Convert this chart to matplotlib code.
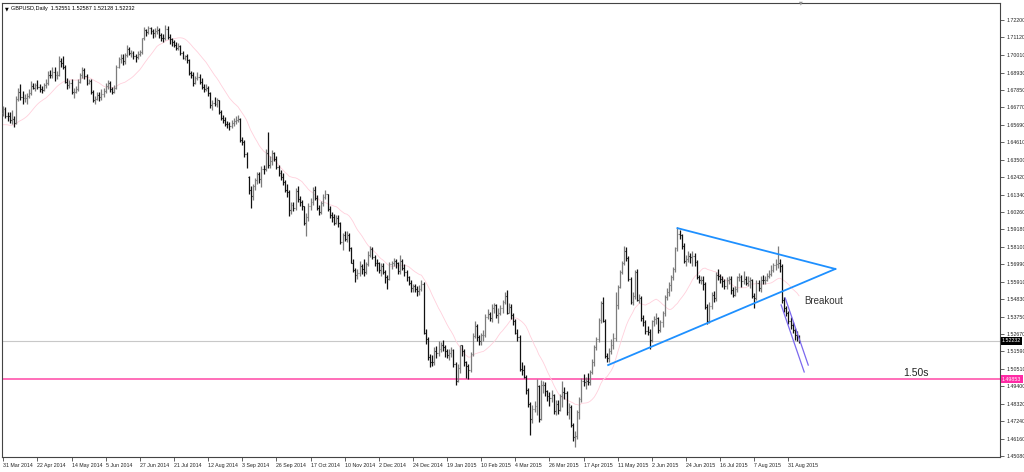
import numpy as np
import pandas as pd
import matplotlib
matplotlib.use("Agg")
import matplotlib.pyplot as plt
import matplotlib.transforms as mtransforms

plt.rcParams['font.family'] = ['Liberation Sans', 'DejaVu Sans']

# GBPUSD daily bars, 31 Mar 2014 .. 7 Sep 2015
opens = [
    1.6640, 1.6665, 1.6625, 1.6620, 1.6600, 1.6605, 1.6580, 1.6730, 1.6770, 1.6740,
    1.6735, 1.6735, 1.6750, 1.6765, 1.6810, 1.6800, 1.6815, 1.6805, 1.6790, 1.6785,
    1.6815, 1.6830, 1.6880, 1.6875, 1.6895, 1.6880, 1.6880, 1.6965, 1.6955, 1.6930,
    1.6835, 1.6815, 1.6830, 1.6770, 1.6775, 1.6790, 1.6835, 1.6880, 1.6910, 1.6870,
    1.6830, 1.6840, 1.6775, 1.6720, 1.6730, 1.6755, 1.6740, 1.6760, 1.6780, 1.6810,
    1.6825, 1.6790, 1.6775, 1.6800, 1.6930, 1.6975, 1.6985, 1.6965, 1.7000, 1.7040,
    1.7015, 1.7015, 1.6995, 1.6990, 1.7010, 1.7020, 1.7105, 1.7155, 1.7145, 1.7170,
    1.7150, 1.7140, 1.7150, 1.7160, 1.7125, 1.7110, 1.7105, 1.7165, 1.7115, 1.7100,
    1.7085, 1.7065, 1.7045, 1.7060, 1.7015, 1.6985, 1.6995, 1.6970, 1.6890, 1.6880,
    1.6830, 1.6860, 1.6865, 1.6835, 1.6805, 1.6790, 1.6795, 1.6765, 1.6690, 1.6705,
    1.6695, 1.6720, 1.6650, 1.6610, 1.6595, 1.6575, 1.6570, 1.6560, 1.6580, 1.6590,
    1.6600, 1.6605, 1.6475, 1.6460, 1.6385, 1.6245, 1.6160, 1.6125, 1.6185, 1.6225,
    1.6260, 1.6230, 1.6295, 1.6290, 1.6395, 1.6315, 1.6340, 1.6390, 1.6355, 1.6305,
    1.6270, 1.6245, 1.6210, 1.6165, 1.6150, 1.6040, 1.6070, 1.6050, 1.6155, 1.6105,
    1.6085, 1.6060, 1.5955, 1.5995, 1.6060, 1.6085, 1.6160, 1.6115, 1.6050, 1.6025,
    1.6080, 1.6120, 1.6135, 1.6045, 1.6005, 1.5995, 1.5960, 1.5990, 1.5955, 1.5840,
    1.5880, 1.5860, 1.5885, 1.5800, 1.5710, 1.5665, 1.5635, 1.5645, 1.5690, 1.5670,
    1.5650, 1.5700, 1.5760, 1.5795, 1.5745, 1.5710, 1.5705, 1.5665, 1.5690, 1.5655,
    1.5620, 1.5610, 1.5700, 1.5705, 1.5720, 1.5705, 1.5660, 1.5720, 1.5680, 1.5655,
    1.5620, 1.5585, 1.5550, 1.5565, 1.5545, 1.5535, 1.5545, 1.5580,
    1.5275, 1.5235, 1.5125, 1.5095, 1.5090, 1.5160, 1.5145, 1.5175, 1.5200, 1.5185,
    1.5160, 1.5135, 1.5150, 1.5165, 1.5080, 1.4975, 1.5055, 1.5195, 1.5160, 1.5090,
    1.5065, 1.5040, 1.5140, 1.5255, 1.5315, 1.5245, 1.5225, 1.5260, 1.5260, 1.5375,
    1.5390, 1.5365, 1.5425, 1.5445, 1.5385, 1.5395, 1.5430, 1.5465, 1.5505, 1.5400,
    1.5435, 1.5385, 1.5345, 1.5275, 1.5245, 1.5050, 1.5045, 1.5000, 1.4920, 1.4830,
    1.4740, 1.4800, 1.4820, 1.4945, 1.4740, 1.4950, 1.4950, 1.4910, 1.4880, 1.4865,
    1.4885, 1.4785, 1.4830, 1.4795, 1.4880, 1.4905, 1.4900, 1.4780, 1.4810, 1.4700,
    1.4625, 1.4630, 1.4780, 1.4860, 1.4975, 1.4970, 1.4975, 1.4965, 1.5030, 1.5095,
    1.5185, 1.5235, 1.5355, 1.5460, 1.5350, 1.5130, 1.5115, 1.5160, 1.5195, 1.5240,
    1.5445, 1.5560, 1.5655, 1.5705, 1.5785, 1.5740, 1.5610, 1.5465, 1.5500, 1.5655,
    1.5480, 1.5490, 1.5365, 1.5340, 1.5285, 1.5280, 1.5230, 1.5345, 1.5360, 1.5365,
    1.5290, 1.5340, 1.5395, 1.5495, 1.5530, 1.5570, 1.5620, 1.5670, 1.5800, 1.5890,
    1.5880, 1.5815, 1.5720, 1.5735, 1.5750, 1.5745, 1.5750, 1.5715, 1.5620, 1.5600,
    1.5605, 1.5580, 1.5435, 1.5345, 1.5440, 1.5510, 1.5490, 1.5635, 1.5625, 1.5610,
    1.5595, 1.5565, 1.5600, 1.5610, 1.5540, 1.5510, 1.5545, 1.5620, 1.5620, 1.5595,
    1.5610, 1.5585, 1.5595, 1.5600, 1.5505, 1.5490, 1.5585, 1.5550, 1.5605, 1.5600,
    1.5605, 1.5625, 1.5640, 1.5665, 1.5695, 1.5700, 1.5710, 1.5690, 1.5480, 1.5425,
    1.5395, 1.5345, 1.5320, 1.5290, 1.5260, 1.52551,
]
highs = [
    1.6685, 1.6680, 1.6650, 1.6645, 1.6660, 1.6625, 1.6745, 1.6800, 1.6820, 1.6780,
    1.6760, 1.6765, 1.6790, 1.6840, 1.6825, 1.6830, 1.6845, 1.6820, 1.6810, 1.6830,
    1.6850, 1.6900, 1.6910, 1.6925, 1.6925, 1.6900, 1.6995, 1.6985, 1.6995, 1.6940,
    1.6860, 1.6845, 1.6850, 1.6800, 1.6810, 1.6850, 1.6890, 1.6925, 1.6920, 1.6885,
    1.6850, 1.6855, 1.6785, 1.6750, 1.6775, 1.6770, 1.6790, 1.6800, 1.6830, 1.6845,
    1.6840, 1.6805, 1.6815, 1.6940, 1.6990, 1.7010, 1.7010, 1.7015, 1.7065, 1.7050,
    1.7035, 1.7030, 1.7010, 1.7025, 1.7035, 1.7110, 1.7175, 1.7165, 1.7180, 1.7175,
    1.7165, 1.7170, 1.7180, 1.7170, 1.7140, 1.7130, 1.7190, 1.7180, 1.7130, 1.7110,
    1.7095, 1.7085, 1.7075, 1.7065, 1.7025, 1.7005, 1.7010, 1.6980, 1.6905, 1.6895,
    1.6870, 1.6895, 1.6885, 1.6860, 1.6820, 1.6820, 1.6810, 1.6775, 1.6725, 1.6740,
    1.6735, 1.6725, 1.6660, 1.6630, 1.6615, 1.6590, 1.6585, 1.6600, 1.6610, 1.6620,
    1.6630, 1.6610, 1.6495, 1.6475, 1.6400, 1.6250, 1.6185, 1.6200, 1.6240, 1.6275,
    1.6275, 1.6310, 1.6320, 1.6420, 1.6525, 1.6375, 1.6410, 1.6400, 1.6375, 1.6320,
    1.6285, 1.6265, 1.6225, 1.6200, 1.6165, 1.6090, 1.6090, 1.6175, 1.6185, 1.6125,
    1.6100, 1.6065, 1.6020, 1.6080, 1.6110, 1.6180, 1.6185, 1.6130, 1.6070, 1.6095,
    1.6135, 1.6160, 1.6140, 1.6060, 1.6025, 1.6015, 1.6005, 1.6005, 1.5965, 1.5895,
    1.5905, 1.5910, 1.5895, 1.5810, 1.5730, 1.5680, 1.5670, 1.5720, 1.5700, 1.5735,
    1.5715, 1.5780, 1.5815, 1.5805, 1.5760, 1.5730, 1.5715, 1.5710, 1.5705, 1.5665,
    1.5635, 1.5715, 1.5720, 1.5740, 1.5735, 1.5715, 1.5755, 1.5735, 1.5700, 1.5665,
    1.5630, 1.5600, 1.5580, 1.5575, 1.5565, 1.5570, 1.5600, 1.5590,
    1.5300, 1.5245, 1.5140, 1.5135, 1.5185, 1.5190, 1.5220, 1.5215, 1.5230, 1.5200,
    1.5170, 1.5175, 1.5185, 1.5175, 1.5090, 1.5080, 1.5200, 1.5200, 1.5170, 1.5100,
    1.5080, 1.5155, 1.5270, 1.5345, 1.5330, 1.5260, 1.5275, 1.5290, 1.5390, 1.5420,
    1.5405, 1.5450, 1.5460, 1.5455, 1.5425, 1.5445, 1.5480, 1.5525, 1.5540, 1.5460,
    1.5450, 1.5395, 1.5360, 1.5300, 1.5260, 1.5095, 1.5075, 1.5010, 1.4930, 1.4845,
    1.4825, 1.4850, 1.4985, 1.4950, 1.4980, 1.4975, 1.4970, 1.4920, 1.4905, 1.4915,
    1.4890, 1.4855, 1.4855, 1.4895, 1.4975, 1.4935, 1.4910, 1.4840, 1.4825, 1.4715,
    1.4660, 1.4795, 1.4875, 1.4990, 1.5020, 1.5000, 1.5025, 1.5045, 1.5110, 1.5200,
    1.5250, 1.5365, 1.5470, 1.5495, 1.5360, 1.5150, 1.5180, 1.5235, 1.5270, 1.5525,
    1.5570, 1.5665, 1.5720, 1.5815, 1.5805, 1.5750, 1.5620, 1.5525, 1.5665, 1.5670,
    1.5515, 1.5500, 1.5385, 1.5355, 1.5315, 1.5295, 1.5355, 1.5380, 1.5395, 1.5375,
    1.5355, 1.5410, 1.5510, 1.5550, 1.5590, 1.5635, 1.5685, 1.5810, 1.5930, 1.5915,
    1.5890, 1.5830, 1.5760, 1.5785, 1.5770, 1.5785, 1.5770, 1.5725, 1.5635, 1.5625,
    1.5625, 1.5590, 1.5455, 1.5465, 1.5530, 1.5535, 1.5650, 1.5670, 1.5640, 1.5625,
    1.5610, 1.5620, 1.5630, 1.5625, 1.5560, 1.5565, 1.5630, 1.5645, 1.5635, 1.5660,
    1.5630, 1.5625, 1.5620, 1.5610, 1.5520, 1.5600, 1.5600, 1.5625, 1.5635, 1.5625,
    1.5645, 1.5665, 1.5695, 1.5710, 1.5730, 1.5815, 1.5735, 1.5700, 1.5495, 1.5440,
    1.5410, 1.5375, 1.5340, 1.5305, 1.5285, 1.52587,
]
lows = [
    1.6620, 1.6610, 1.6590, 1.6580, 1.6575, 1.6555, 1.6570, 1.6715, 1.6725, 1.6700,
    1.6710, 1.6700, 1.6735, 1.6755, 1.6790, 1.6780, 1.6790, 1.6770, 1.6765, 1.6780,
    1.6800, 1.6815, 1.6860, 1.6860, 1.6840, 1.6855, 1.6870, 1.6930, 1.6915, 1.6825,
    1.6790, 1.6800, 1.6760, 1.6735, 1.6765, 1.6780, 1.6825, 1.6860, 1.6855, 1.6815,
    1.6820, 1.6760, 1.6710, 1.6695, 1.6720, 1.6715, 1.6725, 1.6740, 1.6765, 1.6790,
    1.6775, 1.6760, 1.6765, 1.6790, 1.6920, 1.6950, 1.6940, 1.6945, 1.6990, 1.7000,
    1.6990, 1.6980, 1.6960, 1.6975, 1.6995, 1.7010, 1.7095, 1.7120, 1.7130, 1.7130,
    1.7110, 1.7115, 1.7130, 1.7110, 1.7090, 1.7085, 1.7095, 1.7100, 1.7070, 1.7060,
    1.7050, 1.7035, 1.7035, 1.7005, 1.6975, 1.6970, 1.6955, 1.6880, 1.6860, 1.6810,
    1.6820, 1.6845, 1.6820, 1.6790, 1.6770, 1.6780, 1.6750, 1.6670, 1.6660, 1.6685,
    1.6680, 1.6635, 1.6600, 1.6580, 1.6560, 1.6550, 1.6535, 1.6545, 1.6560, 1.6575,
    1.6585, 1.6460, 1.6440, 1.6370, 1.6300, 1.6140, 1.6050, 1.6100, 1.6160, 1.6200,
    1.6205, 1.6180, 1.6260, 1.6280, 1.6300, 1.6300, 1.6320, 1.6340, 1.6290, 1.6250,
    1.6225, 1.6195, 1.6150, 1.6120, 1.6000, 1.6015, 1.6030, 1.6040, 1.6090, 1.6065,
    1.6040, 1.5945, 1.5875, 1.5970, 1.6040, 1.6070, 1.6100, 1.6035, 1.6005, 1.6015,
    1.6060, 1.6105, 1.6030, 1.5985, 1.5965, 1.5945, 1.5950, 1.5935, 1.5825, 1.5790,
    1.5845, 1.5840, 1.5780, 1.5710, 1.5650, 1.5590, 1.5610, 1.5630, 1.5640, 1.5625,
    1.5640, 1.5690, 1.5745, 1.5730, 1.5690, 1.5660, 1.5645, 1.5630, 1.5640, 1.5585,
    1.5545, 1.5600, 1.5670, 1.5690, 1.5680, 1.5640, 1.5640, 1.5665, 1.5630, 1.5595,
    1.5570, 1.5530, 1.5530, 1.5525, 1.5505, 1.5510, 1.5535, 1.5265,
    1.5205, 1.5105, 1.5060, 1.5065, 1.5075, 1.5120, 1.5130, 1.5155, 1.5160, 1.5125,
    1.5120, 1.5105, 1.5125, 1.5060, 1.4950, 1.4965, 1.5025, 1.5130, 1.5070, 1.4990,
    1.4985, 1.5030, 1.5130, 1.5240, 1.5225, 1.5200, 1.5200, 1.5225, 1.5245, 1.5360,
    1.5350, 1.5340, 1.5400, 1.5365, 1.5335, 1.5385, 1.5400, 1.5450, 1.5390, 1.5395,
    1.5360, 1.5320, 1.5265, 1.5225, 1.5035, 1.5010, 1.4990, 1.4895, 1.4810, 1.4635,
    1.4715, 1.4780, 1.4765, 1.4720, 1.4730, 1.4900, 1.4880, 1.4850, 1.4820, 1.4845,
    1.4770, 1.4760, 1.4770, 1.4790, 1.4815, 1.4860, 1.4760, 1.4740, 1.4685, 1.4600,
    1.4565, 1.4610, 1.4740, 1.4845, 1.4945, 1.4925, 1.4950, 1.4950, 1.5015, 1.5070,
    1.5165, 1.5215, 1.5335, 1.5340, 1.5120, 1.5095, 1.5090, 1.5140, 1.5170, 1.5225,
    1.5420, 1.5550, 1.5640, 1.5695, 1.5720, 1.5595, 1.5450, 1.5445, 1.5485, 1.5470,
    1.5460, 1.5345, 1.5315, 1.5265, 1.5260, 1.5170, 1.5215, 1.5315, 1.5330, 1.5270,
    1.5280, 1.5310, 1.5380, 1.5475, 1.5505, 1.5535, 1.5605, 1.5655, 1.5785, 1.5855,
    1.5795, 1.5705, 1.5690, 1.5715, 1.5710, 1.5690, 1.5690, 1.5610, 1.5585, 1.5575,
    1.5540, 1.5420, 1.5330, 1.5335, 1.5420, 1.5465, 1.5470, 1.5600, 1.5585, 1.5560,
    1.5545, 1.5545, 1.5575, 1.5515, 1.5495, 1.5505, 1.5530, 1.5595, 1.5560, 1.5575,
    1.5570, 1.5565, 1.5555, 1.5490, 1.5425, 1.5480, 1.5535, 1.5530, 1.5575, 1.5580,
    1.5595, 1.5615, 1.5625, 1.5650, 1.5665, 1.5680, 1.5650, 1.5460, 1.5405, 1.5380,
    1.5330, 1.5300, 1.5270, 1.5230, 1.5220, 1.52128,
]
closes = [
    1.6665, 1.6625, 1.6620, 1.6600, 1.6605, 1.6580, 1.6730, 1.6770, 1.6740, 1.6735,
    1.6735, 1.6750, 1.6765, 1.6810, 1.6800, 1.6815, 1.6805, 1.6790, 1.6785, 1.6815,
    1.6830, 1.6880, 1.6875, 1.6895, 1.6880, 1.6880, 1.6965, 1.6955, 1.6930, 1.6835,
    1.6815, 1.6830, 1.6770, 1.6775, 1.6790, 1.6835, 1.6880, 1.6910, 1.6870, 1.6830,
    1.6840, 1.6775, 1.6720, 1.6730, 1.6755, 1.6740, 1.6760, 1.6780, 1.6810, 1.6825,
    1.6790, 1.6775, 1.6800, 1.6930, 1.6975, 1.6985, 1.6965, 1.7000, 1.7040, 1.7015,
    1.7015, 1.6995, 1.6990, 1.7010, 1.7020, 1.7105, 1.7155, 1.7145, 1.7170, 1.7150,
    1.7140, 1.7150, 1.7160, 1.7125, 1.7110, 1.7105, 1.7165, 1.7115, 1.7100, 1.7085,
    1.7065, 1.7045, 1.7060, 1.7015, 1.6985, 1.6995, 1.6970, 1.6890, 1.6880, 1.6830,
    1.6860, 1.6865, 1.6835, 1.6805, 1.6790, 1.6795, 1.6765, 1.6690, 1.6705, 1.6695,
    1.6720, 1.6650, 1.6610, 1.6595, 1.6575, 1.6570, 1.6560, 1.6580, 1.6590, 1.6600,
    1.6605, 1.6475, 1.6460, 1.6385, 1.6320, 1.6160, 1.6125, 1.6185, 1.6225, 1.6260,
    1.6230, 1.6295, 1.6290, 1.6395, 1.6315, 1.6340, 1.6390, 1.6355, 1.6305, 1.6270,
    1.6245, 1.6210, 1.6165, 1.6150, 1.6040, 1.6070, 1.6050, 1.6155, 1.6105, 1.6085,
    1.6060, 1.5955, 1.5995, 1.6060, 1.6085, 1.6160, 1.6115, 1.6050, 1.6025, 1.6080,
    1.6120, 1.6135, 1.6045, 1.6005, 1.5995, 1.5960, 1.5990, 1.5955, 1.5840, 1.5880,
    1.5860, 1.5885, 1.5800, 1.5710, 1.5665, 1.5635, 1.5645, 1.5690, 1.5670, 1.5650,
    1.5700, 1.5760, 1.5795, 1.5745, 1.5710, 1.5705, 1.5665, 1.5690, 1.5655, 1.5620,
    1.5610, 1.5700, 1.5705, 1.5720, 1.5705, 1.5660, 1.5720, 1.5680, 1.5655, 1.5620,
    1.5585, 1.5550, 1.5565, 1.5545, 1.5535, 1.5545, 1.5580, 1.5275,
    1.5235, 1.5125, 1.5095, 1.5090, 1.5160, 1.5145, 1.5175, 1.5200, 1.5185, 1.5160,
    1.5135, 1.5150, 1.5165, 1.5080, 1.4975, 1.5055, 1.5195, 1.5160, 1.5090, 1.5065,
    1.5040, 1.5140, 1.5255, 1.5315, 1.5245, 1.5225, 1.5260, 1.5260, 1.5375, 1.5390,
    1.5365, 1.5425, 1.5445, 1.5385, 1.5395, 1.5430, 1.5465, 1.5505, 1.5400, 1.5435,
    1.5385, 1.5345, 1.5275, 1.5245, 1.5050, 1.5045, 1.5000, 1.4920, 1.4830, 1.4740,
    1.4800, 1.4820, 1.4945, 1.4740, 1.4950, 1.4950, 1.4910, 1.4880, 1.4865, 1.4885,
    1.4785, 1.4830, 1.4795, 1.4880, 1.4905, 1.4900, 1.4780, 1.4810, 1.4700, 1.4625,
    1.4630, 1.4780, 1.4860, 1.4975, 1.4970, 1.4975, 1.4965, 1.5030, 1.5095, 1.5185,
    1.5235, 1.5355, 1.5460, 1.5350, 1.5130, 1.5115, 1.5160, 1.5195, 1.5240, 1.5445,
    1.5560, 1.5655, 1.5705, 1.5785, 1.5740, 1.5610, 1.5465, 1.5500, 1.5655, 1.5480,
    1.5490, 1.5365, 1.5340, 1.5285, 1.5280, 1.5230, 1.5345, 1.5360, 1.5365, 1.5290,
    1.5340, 1.5395, 1.5495, 1.5530, 1.5570, 1.5620, 1.5670, 1.5800, 1.5890, 1.5880,
    1.5815, 1.5720, 1.5735, 1.5750, 1.5745, 1.5750, 1.5715, 1.5620, 1.5600, 1.5605,
    1.5580, 1.5435, 1.5345, 1.5440, 1.5510, 1.5490, 1.5635, 1.5625, 1.5610, 1.5595,
    1.5565, 1.5600, 1.5610, 1.5540, 1.5510, 1.5545, 1.5620, 1.5620, 1.5595, 1.5610,
    1.5585, 1.5595, 1.5600, 1.5505, 1.5490, 1.5585, 1.5550, 1.5605, 1.5600, 1.5605,
    1.5625, 1.5640, 1.5665, 1.5695, 1.5700, 1.5710, 1.5690, 1.5480, 1.5425, 1.5395,
    1.5345, 1.5320, 1.5290, 1.5260, 1.5255, 1.52232,
]
# closes of the 19 sessions before the first bar, only feed the moving average
prior_closes = [1.6620, 1.6640, 1.6650, 1.6600, 1.6560, 1.6560, 1.6545, 1.6580, 1.6600, 1.6555,
                1.6545, 1.6500, 1.6490, 1.6475, 1.6490, 1.6520, 1.6550, 1.6590, 1.6630]

date_labels = ['31 Mar 2014', '22 Apr 2014', '14 May 2014', '5 Jun 2014', '27 Jun 2014',
               '21 Jul 2014', '12 Aug 2014', '3 Sep 2014', '26 Sep 2014', '17 Oct 2014',
               '10 Nov 2014', '2 Dec 2014', '24 Dec 2014', '19 Jan 2015', '10 Feb 2015',
               '4 Mar 2015', '26 Mar 2015', '17 Apr 2015', '11 May 2015', '2 Jun 2015',
               '24 Jun 2015', '16 Jul 2015', '7 Aug 2015', '31 Aug 2015']
bars_per_label = 16
price_ticks = [1.72200, 1.71120, 1.70010, 1.68930, 1.67850, 1.66770, 1.65690, 1.64610, 1.63500,
               1.62420, 1.61340, 1.60260, 1.59180, 1.58100, 1.56990, 1.55910, 1.54830, 1.53750,
               1.52670, 1.51590, 1.50510, 1.49400, 1.48320, 1.47240, 1.46160, 1.45080]

# drawn objects (bar index, price)
tri_upper = ([316, 390], [1.5925, 1.5671])
tri_lower = ([283.5, 390], [1.5073, 1.5671])
chan_a = ([364.6, 375.4], [1.5447, 1.5030])
chan_b = ([366.5, 377.3], [1.5490, 1.5073])
level_150 = 1.49853
breakout_pos = (375.4, 1.5471)
label_150_pos = (421.8, 1.5023)

o = np.array(opens); h = np.array(highs); l = np.array(lows); c = np.array(closes)
x = np.arange(len(c))
up = c >= o
ma = pd.Series(prior_closes + closes).rolling(20).mean().values[len(prior_closes):]

fig = plt.figure(figsize=(10.24, 4.72), dpi=100)
ax = fig.add_axes([0.002, 0.0318, 0.9746, 0.9619])

ax.axhline(c[-1], color='#c8c8c8', lw=0.8, zorder=1)
ax.axhline(level_150, color='#ff6eb9', lw=1.4, zorder=1)

ax.plot(x, ma, color='#ffd0dc', lw=0.6, zorder=2)

for mask, col in [(up, '#7c7c7c'), (~up, '#111111')]:
    ax.vlines(x[mask], l[mask], h[mask], color=col, lw=0.9, zorder=3)
    ax.hlines(o[mask], x[mask] - 0.45, x[mask], color=col, lw=0.8, zorder=3)
    ax.hlines(c[mask], x[mask], x[mask] + 0.45, color=col, lw=0.8, zorder=3)

ax.plot(*tri_upper, color='#1e90ff', lw=1.3, zorder=4)
ax.plot(*tri_lower, color='#1e90ff', lw=1.3, zorder=4)
ax.plot(*chan_a, color='#7b68ee', lw=0.9, zorder=4)
ax.plot(*chan_b, color='#7b68ee', lw=0.9, zorder=4)

ax.text(*breakout_pos, 'Breakout', fontsize=7, color='#333333', va='center', ha='left')
ax.text(*label_150_pos, '1.50s', fontsize=7.5, color='#222222', va='center', ha='left')

ax.set_xlim(-0.6, 467.2)
ax.set_ylim(1.4501, 1.7326)

ax.set_xticks(np.arange(len(date_labels)) * bars_per_label)
ax.set_xticklabels(date_labels, fontsize=3.8, ha='left')
ax.tick_params(axis='x', length=3, width=0.5, pad=1.5, colors='#222222')

ax.yaxis.tick_right()
ax.set_yticks(price_ticks)
ax.set_yticklabels(['%.5f' % v for v in price_ticks], fontsize=3.8)
ax.tick_params(axis='y', length=3, width=0.5, pad=1.5, colors='#222222')

for s in ax.spines.values():
    s.set_color('#444444')
    s.set_linewidth(0.8)

# price tags on the scale
tr = mtransforms.blended_transform_factory(ax.transAxes, ax.transData)
ax.text(1.002, c[-1], '%.5f' % c[-1], transform=tr, fontsize=3.8, color='white',
        va='center', ha='left', bbox=dict(boxstyle='square,pad=0.25', fc='black', ec='none'))
ax.text(1.002, level_150, '%.5f' % level_150, transform=tr, fontsize=3.8, color='white',
        va='center', ha='left', bbox=dict(boxstyle='square,pad=0.25', fc='#ff2aa5', ec='none'))

ax.text(0.003, 0.992, '\u25bc', transform=ax.transAxes, fontsize=3.5, va='top', ha='left',
        family=['DejaVu Sans'])
ax.text(0.009, 0.993, 'GBPUSD,Daily  %.5f %.5f %.5f %.5f' % (o[-1], h[-1], l[-1], c[-1]),
        transform=ax.transAxes, fontsize=4, va='top', ha='left')
ax.text(0.8, 1.0, '\u25bc', transform=ax.transAxes, fontsize=3.5, color='#909090',
        va='center', ha='center', family=['DejaVu Sans'])

plt.savefig('out.png', dpi=100)
